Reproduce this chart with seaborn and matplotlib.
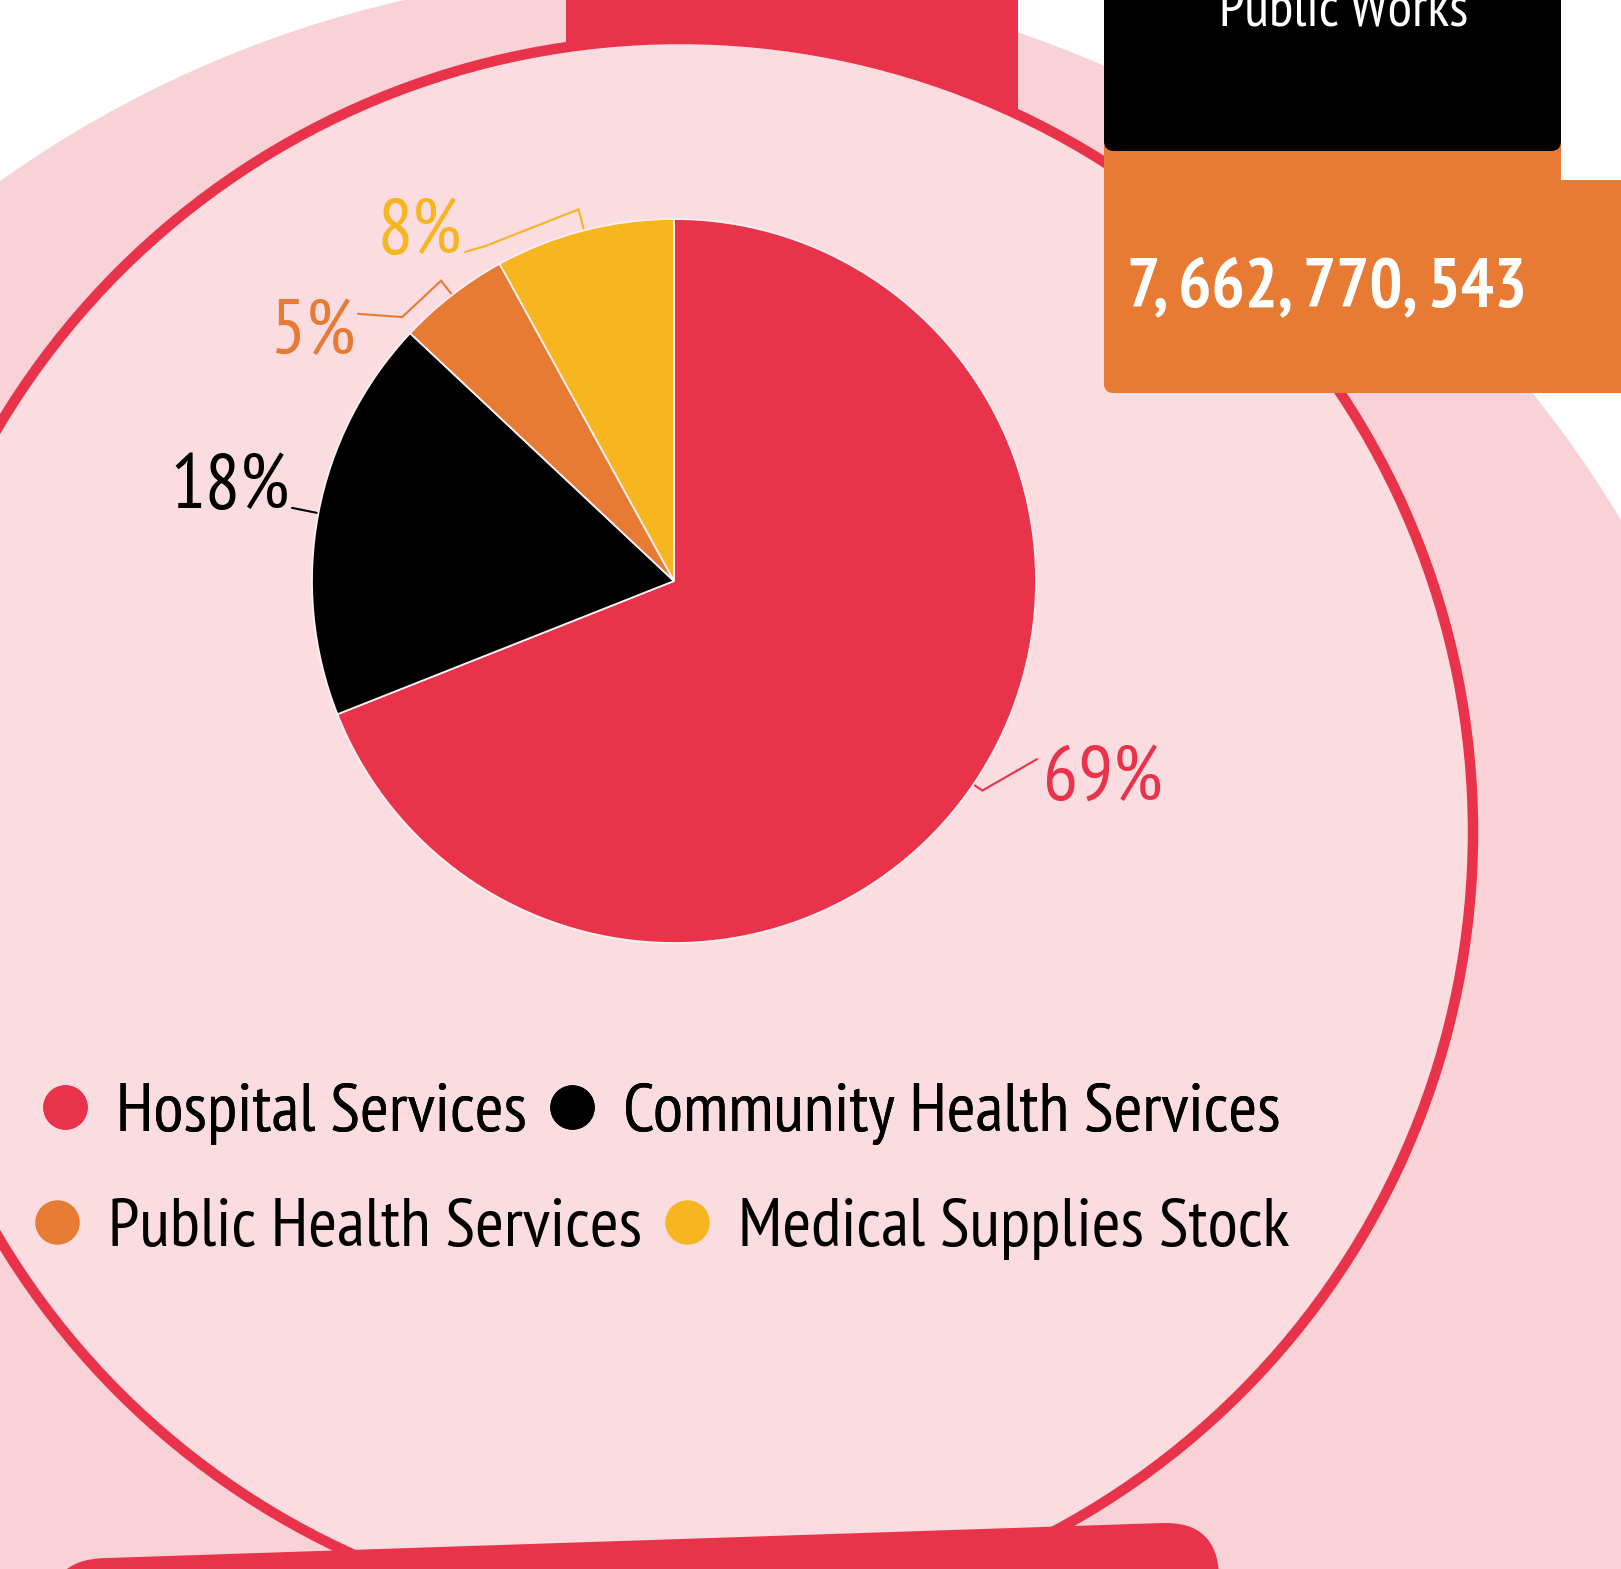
"""Health spending split, drawn as a pie on the infographic panel."""

import matplotlib.pyplot as plt
import matplotlib.transforms as mtransforms
import numpy as np
import seaborn as sns
from matplotlib.lines import Line2D
from matplotlib.patches import Circle, FancyBboxPatch, Rectangle

# data
categories = ["Hospital Services", "Community Health Services",
              "Public Health Services", "Medical Supplies Stock"]
shares = [69, 18, 5, 8]
pct_labels = ["69%", "18%", "5%", "8%"]
headline = "Public Works"
headline_value = "7, 662, 770, 543"

# styling
RED, BLACK, ORANGE, YELLOW = "#e8334a", "#000000", "#e87b33", "#f7b520"
slice_colors = [RED, BLACK, ORANGE, YELLOW]
PINK_OUTER, PINK_INNER = "#f8d2d7", "#fbdce1"
W, H = 1621, 1569
FONT = ["PT Sans Narrow", "DejaVu Sans"]

# label connectors: crook radius, extra bend points, text anchor (pie units)
label_layout = [
    dict(crook=1.03, bends=[(1.003, -0.492)], text=(1.02, -0.604), ha="left"),
    dict(crook=None, bends=[(-1.055, 0.202)], text=(-1.061, 0.203), ha="right"),
    dict(crook=1.05, bends=[(-0.751, 0.729), (-0.873, 0.738)], text=(-0.881, 0.628), ha="right"),
    dict(crook=1.06, bends=[(-0.522, 0.925), (-0.577, 0.909)], text=(-0.586, 0.905), ha="right"),
]

sns.set_theme(style="white")
plt.rcParams["font.family"] = FONT

fig = plt.figure(figsize=(W / 100, H / 100), dpi=100)
fig.patch.set_facecolor("white")

# background panel, pixel coordinates
bg = fig.add_axes([0, 0, 1, 1])
bg.set_xlim(0, W)
bg.set_ylim(H, 0)
bg.axis("off")

bg.add_patch(Circle((654, 1099), 1127, color=PINK_OUTER, lw=0))
bg.add_patch(Rectangle((566, -10), 452, 140, color=RED, lw=0))
bg.add_patch(Circle((680, 832), 793, facecolor=PINK_INNER, edgecolor=RED, lw=7.5))

bottom_bar = FancyBboxPatch((48, 1560), 1170, 200, boxstyle="round,pad=0,rounding_size=55",
                            color=RED, lw=0)
bottom_bar.set_transform(mtransforms.Affine2D().rotate_deg_around(48, 1560, -1.9) + bg.transData)
bg.add_patch(bottom_bar)

bg.add_patch(FancyBboxPatch((1104, 120), 457, 273, boxstyle="round,pad=0,rounding_size=10",
                            color=ORANGE, lw=0))
bg.add_patch(FancyBboxPatch((1104, 180), 560, 213, boxstyle="round,pad=0,rounding_size=10",
                            color=ORANGE, lw=0))
bg.add_patch(FancyBboxPatch((1104, -40), 457, 191, boxstyle="round,pad=0,rounding_size=10",
                            color=BLACK, lw=0))
bg.text(1344, 25, headline, color="white", fontsize=40.5, ha="center", va="baseline")
bg.text(1127, 306, headline_value, color="white", fontsize=50, fontweight="bold",
        ha="left", va="baseline")

# pie, 1 unit = 362 px, centred at (674, 581)
lim, r_px = 1.6, 362
size = 2 * lim * r_px
ax = fig.add_axes([(674 - lim * r_px) / W, (H - 581 - lim * r_px) / H, size / W, size / H])

wedges, _ = ax.pie(shares, colors=slice_colors, startangle=90, counterclock=False, radius=1,
                   wedgeprops=dict(edgecolor="#fdf0f2", linewidth=1.3))
ax.set_xlim(-lim, lim)
ax.set_ylim(-lim, lim)
ax.axis("off")

for wedge, text, color, lay in zip(wedges, pct_labels, slice_colors, label_layout):
    mid = np.deg2rad((wedge.theta1 + wedge.theta2) / 2)
    pts = [(1.005 * np.cos(mid), 1.005 * np.sin(mid))]
    if lay["crook"]:
        pts.append((lay["crook"] * np.cos(mid), lay["crook"] * np.sin(mid)))
    pts += lay["bends"]
    xs, ys = zip(*pts)
    ax.plot(xs, ys, color=color, lw=1.5, solid_joinstyle="miter")
    ax.text(*lay["text"], text, color=color, fontsize=56, ha=lay["ha"], va="baseline")

# legend in two flowing rows
handles = [Line2D([], [], marker="o", ls="", markersize=31, markerfacecolor=c, markeredgecolor=c)
           for c in slice_colors]
legend_kw = dict(loc="center left", ncol=2, frameon=False, prop=dict(family=FONT, size=50),
                 handlelength=0.6, handletextpad=0.44, columnspacing=0.34,
                 borderpad=0, borderaxespad=0, labelcolor=BLACK)
row1 = fig.legend(handles[:2], categories[:2], bbox_to_anchor=(44 / W, (H - 1114) / H), **legend_kw)
fig.add_artist(row1)
fig.legend(handles[2:], categories[2:], bbox_to_anchor=(36 / W, (H - 1229) / H), **legend_kw)

fig.savefig("out.png", dpi=100)
